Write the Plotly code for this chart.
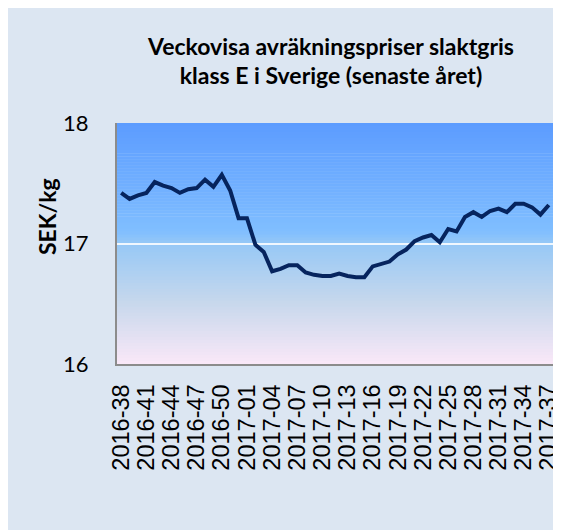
import plotly.graph_objects as go

weeks_2016 = [f"2016-{w:02d}" for w in range(38, 53)]
weeks_2017 = [f"2017-{w:02d}" for w in range(1, 38)]
categories = weeks_2016 + weeks_2017

prices = [17.42, 17.37, 17.40, 17.42, 17.51, 17.48, 17.46, 17.42, 17.45, 17.46,
          17.53, 17.47, 17.57, 17.44, 17.21, 17.21, 16.99, 16.93, 16.77, 16.79,
          16.82, 16.82, 16.76, 16.74, 16.73, 16.73, 16.75, 16.73, 16.72, 16.72,
          16.81, 16.83, 16.85, 16.91, 16.95, 17.02, 17.05, 17.07, 17.01, 17.12,
          17.10, 17.22, 17.26, 17.22, 17.27, 17.29, 17.26, 17.33, 17.33, 17.30,
          17.24, 17.32]

tick_labels = categories[::3]
y_ticks = [16, 17, 18]

title_text = "Veckovisa avräkningspriser slaktgris<br>klass E i Sverige (senaste året)"
y_title = "SEK/kg"

W, H = 561, 530
L, R, T, B = 109, 16, 115, 174
pw, ph = W - L - R, H - T - B

fig = go.Figure()
fig.add_trace(go.Scatter(
    x=categories, y=prices, mode="lines",
    line=dict(color="#06245e", width=4), hoverinfo="skip", showlegend=False,
))

# vertical gradient in plot area
stops = [(0.0, (92, 156, 255)), (0.45, (128, 190, 255)), (0.5, (150, 200, 246)),
         (0.75, (200, 216, 236)), (1.0, (250, 232, 248))]

def col(t):
    for (a, ca), (b, cb) in zip(stops[:-1], stops[1:]):
        if a <= t <= b:
            f = (t - a) / (b - a) if b > a else 0
            return "rgb(%d,%d,%d)" % tuple(round(ca[i] + (cb[i] - ca[i]) * f) for i in range(3))
    return "rgb(%d,%d,%d)" % stops[-1][1]

shapes = []
n = 80
for i in range(n):
    t = (i + 0.5) / n  # from top
    shapes.append(dict(type="rect", xref="paper", yref="paper",
                       x0=0, x1=1, y0=1 - (i + 1) / n - 0.002, y1=1 - i / n,
                       fillcolor=col(t), line=dict(width=0), layer="below"))

fig.update_layout(
    width=W, height=H,
    margin=dict(l=L, r=R, t=T, b=B, autoexpand=False),
    paper_bgcolor="#dce6f2",
    plot_bgcolor="rgba(0,0,0,0)",
    shapes=shapes,
    title=dict(text=title_text, x=323 / W, xanchor="center", xref="container",
               y=1 - 46.5 / H, yanchor="middle", yref="container",
               font=dict(family="Lato", size=23, color="black", weight="bold")),
    xaxis=dict(type="category", range=[-0.5, len(categories) - 0.5], automargin=False,
               tickmode="array", tickvals=tick_labels, ticktext=tick_labels,
               tickangle=-90, tickfont=dict(family="Liberation Sans", size=23.5, color="black"),
               ticks="outside", ticklen=9, tickcolor="rgba(0,0,0,0)",
               showgrid=False, showline=True, linecolor="#8c8c8c", linewidth=2,
               zeroline=False, fixedrange=True),
    yaxis=dict(range=[16, 18], tickvals=y_ticks, ticktext=[str(v) for v in y_ticks],
               automargin=False,
               tickfont=dict(family="Lato", size=22, color="black"),
               ticks="outside", ticklen=22, tickcolor="rgba(0,0,0,0)",
               showgrid=True, gridcolor="rgba(255,255,255,0.85)", gridwidth=2,
               showline=True, linecolor="#8c8c8c", linewidth=2,
               zeroline=False, fixedrange=True),
    annotations=[dict(text=y_title, xref="paper", yref="paper",
                      x=(39 - L) / pw, y=(356 - 209) / ph, textangle=-90,
                      showarrow=False, xanchor="center", yanchor="middle",
                      font=dict(family="Lato", size=23, color="black", weight="bold"))],
)

fig.write_html("out.html")
